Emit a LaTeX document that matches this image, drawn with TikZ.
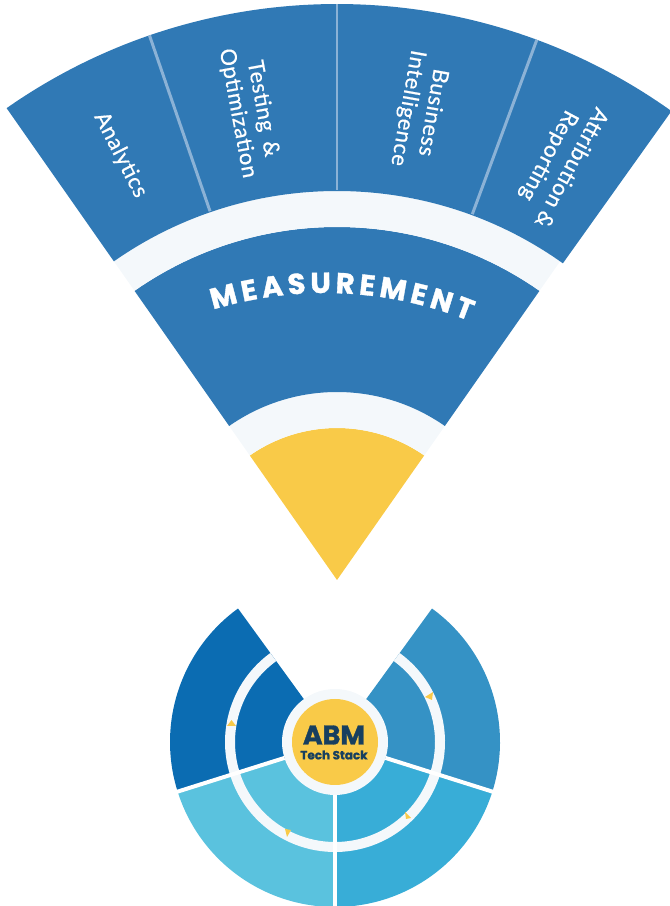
\documentclass[tikz,border=0pt]{standalone}
\usepackage{fontspec}
\setmainfont{Lato}
\newfontfamily\segfont[LetterSpace=3, FakeBold=0.6]{Lato}
\newfontfamily\headfont[BoldFeatures={FakeBold=1.2}]{Poppins}
\usetikzlibrary{calc,decorations.text}
\definecolor{topblue}{HTML}{3079B5}
\definecolor{lightband}{HTML}{F4F8FB}
\definecolor{divline}{HTML}{8BB2D6}
\definecolor{sunyellow}{HTML}{F9CA48}
\definecolor{ulblue}{HTML}{0B6CB2}
\definecolor{urblue}{HTML}{3592C5}
\definecolor{llblue}{HTML}{5AC2DE}
\definecolor{lrblue}{HTML}{38ADD7}
\definecolor{navy}{HTML}{173F5F}
\newcommand{\measstyle}{\headfont\bfseries\fontsize{29}{32}\selectfont\color{white}}
% annular sector: center, r1, r2, a1, a2, fill options
\newcommand{\annsec}[6]{%
  \fill[#6] ($(#1)+(#4:#2)$) arc[start angle=#4, end angle=#5, radius=#2]
    -- ($(#1)+(#5:#3)$) arc[start angle=#5, end angle=#4, radius=#3] -- cycle;}
\tikzset{
  segtext/.style={text=white, align=center, font=\segfont\fontsize{22}{25.5}\selectfont, inner sep=0pt},
  divider/.style={draw=divline, line width=3},
  gapline/.style={draw=white, line width=4},
  marker/.style={fill=sunyellow},
}
\begin{document}
\begin{tikzpicture}[x=1bp,y=1bp]
\useasboundingbox (0,0) rectangle (670,906);
\clip (0,0) rectangle (670,906);
% ---------- top fan ----------
\coordinate (A) at (337,326);
\annsec{A}{0}{152}{55}{125}{sunyellow}
\annsec{A}{152}{188}{55}{125}{lightband}
\annsec{A}{188}{353}{55}{125}{topblue}
\annsec{A}{353}{389}{55}{125}{lightband}
\annsec{A}{389}{576}{54.5}{125}{topblue}
% dividers
\coordinate (d1a) at ($(A)+(109:390)$); \coordinate (d1b) at ($(A)+(109:576)$);
\coordinate (d2a) at ($(A)+(90:390)$);  \coordinate (d2b) at ($(A)+(90:576)$);
\coordinate (d3a) at ($(A)+(69.7:390)$); \coordinate (d3b) at ($(A)+(69.7:576)$);
\draw[divider] (d1a) -- (d1b);
\draw[divider] (d2a) -- (d2b);
\draw[divider] (d3a) -- (d3b);
% segment labels
\node[segtext, rotate=-63] (t1) at ($(A)+(117:477)$) {Analytics};
\node[segtext, rotate=-79.5] (t2) at ($(A)+(100.5:477)$) {Testing \,\&\\Optimization};
\node[segtext, rotate=-100] (t3) at ($(A)+(80:477)$) {Business\\Intelligence};
\node[segtext, rotate=-118] (t4) at ($(A)+(62:474)$) {Attribution \&\\Reporting};
% MEASUREMENT along a flatter arc
\coordinate (M) at (325,226);
\path[decorate,
   decoration={text along path,
   text={|\measstyle|MEASUREMENT},
   text align={fit to path}}]
   ($(M)+(106.8:387)$) arc[start angle=106.8, end angle=68.1, radius=387];
% ---------- bottom circle ----------
\coordinate (C) at (335,164);
\annsec{C}{0}{165}{126}{197.5}{ulblue}
\annsec{C}{0}{165}{197.5}{270}{llblue}
\annsec{C}{0}{165}{270}{342.5}{lrblue}
\annsec{C}{0}{165}{342.5}{414}{urblue}
\annsec{C}{100}{110}{126}{414}{lightband}
\fill[lightband] (C) circle[radius=53];
% white dividers
\coordinate (g1a) at ($(C)+(197.5:53)$); \coordinate (g1b) at ($(C)+(197.5:168)$);
\coordinate (g2a) at ($(C)+(270:53)$);   \coordinate (g2b) at ($(C)+(270:168)$);
\coordinate (g3a) at ($(C)+(342.5:53)$); \coordinate (g3b) at ($(C)+(342.5:168)$);
\draw[gapline] (g1a) -- (g1b);
\draw[gapline] (g2a) -- (g2b);
\draw[gapline] (g3a) -- (g3b);
\fill[sunyellow] (C) circle[radius=43];
\node[font=\headfont\bfseries\fontsize{27}{30}\selectfont, text=navy, inner sep=0pt] (abm) at (334,171) {ABM};
\node[font=\headfont\bfseries\fontsize{12}{13}\selectfont, text=navy, inner sep=0pt] (tech) at (334,151) {Tech Stack};
% small yellow markers on the ring
\fill[marker] (227,180) -- (236,180) -- (231.5,186) -- cycle;
\fill[marker] (425,209) -- (433,214) -- (432,206) -- cycle;
\fill[marker] (405,94) -- (406,87) -- (411,88) -- cycle;
\fill[marker] (285,77) -- (291,76) -- (287,69) -- cycle;
\end{tikzpicture}
\end{document}
